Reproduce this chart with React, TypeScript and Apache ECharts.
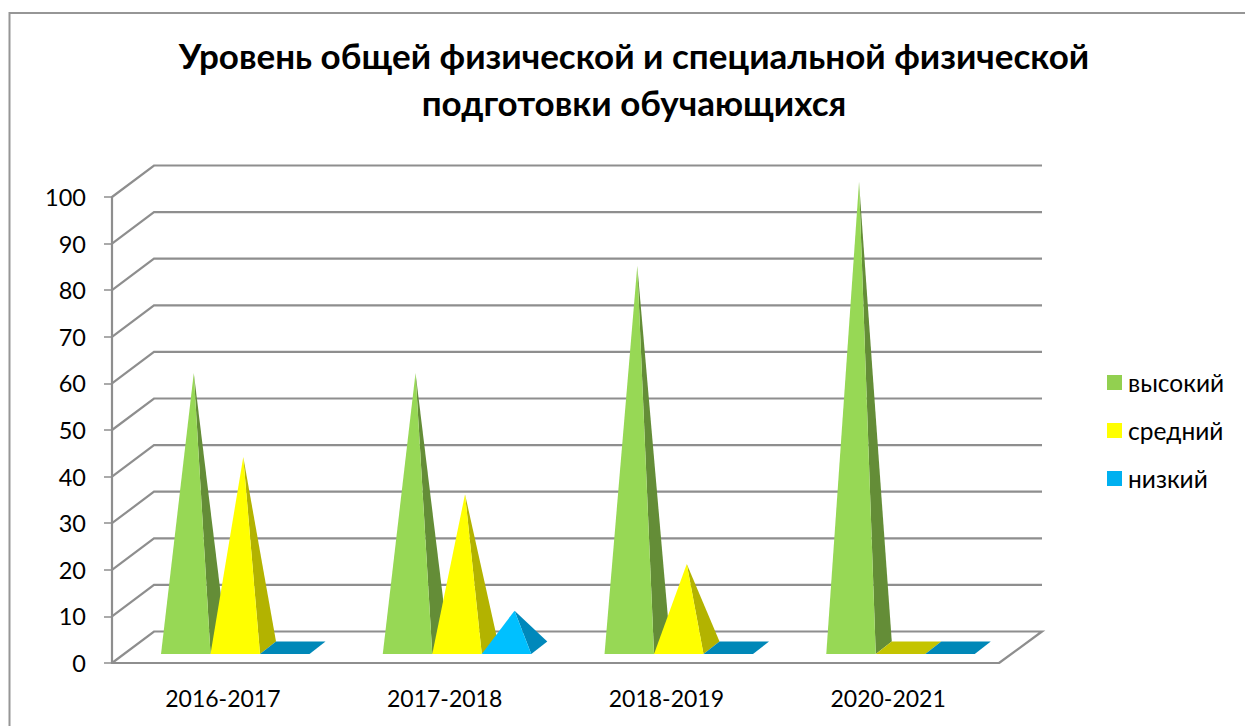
import React, { useEffect, useRef } from "react";
import * as echarts from "echarts";

const categories = ["2016-2017", "2017-2018", "2018-2019", "2020-2021"];
const seriesNames = ["высокий", "средний", "низкий"];
const highValues = [59, 59, 82, 100];
const mediumValues = [41, 33, 18, 0];
const lowValues = [0, 8, 0, 0];
const yTicks = [0, 10, 20, 30, 40, 50, 60, 70, 80, 90, 100];
const titleText = "Уровень общей физической и специальной физической\nподготовки обучающихся";

const FONT = "Lato, 'Open Sans', sans-serif";
const GRID_COLOR = "#8E8E8E";
const WALL_DX = 42;
const WALL_DY = -31.5;
const styles = [
  { legend: "#92D050", front: "#97D855", side: "#648D37", flat: "#648D37" },
  { legend: "#FFFF00", front: "#FFFF00", side: "#B3B300", flat: "#C4C400" },
  { legend: "#00B0F0", front: "#00C0FF", side: "#0088BB", flat: "#0088B8" },
];

function pyramidItem(seriesIndex: number) {
  return (params: any, api: any) => {
    const cat = api.value(0);
    const v = api.value(1);
    const band = api.size([1, 0])[0];
    const bw = band * 0.2232;
    const center = api.coord([cat, 0]);
    const top = api.coord([cat, v]);
    const x0 = center[0] + 12.4 - 1.5 * bw + seriesIndex * bw;
    const x1 = x0 + bw;
    const yFront = center[1] - 9;
    const dx = 16;
    const dy = -12.5;
    const st = styles[seriesIndex];
    if (v === 0) {
      return {
        type: "polygon",
        shape: { points: [[x0, yFront], [x1, yFront], [x1 + dx, yFront + dy], [x0 + dx, yFront + dy]] },
        style: { fill: st.flat },
      };
    }
    const apex = [x0 + bw / 2 + dx / 2, top[1] - 15];
    return {
      type: "group",
      children: [
        {
          type: "polygon",
          shape: { points: [[x1, yFront], [x1 + dx, yFront + dy], apex] },
          style: { fill: st.side },
        },
        {
          type: "polygon",
          shape: { points: [[x0, yFront], [x1, yFront], apex] },
          style: { fill: st.front },
        },
      ],
    };
  };
}

function wallItem(params: any, api: any) {
  const v = api.value(0);
  const cs = params.coordSys;
  const p = api.coord([0, v]);
  const left = cs.x;
  const right = cs.x + cs.width;
  const points: number[][] = [
    [left, p[1]],
    [left + WALL_DX, p[1] + WALL_DY],
    [right + WALL_DX + 1, p[1] + WALL_DY],
  ];
  if (v === 0) points.push([right, p[1]]);
  return {
    type: "polyline",
    shape: { points },
    style: { stroke: GRID_COLOR, lineWidth: 2.2, fill: "none" },
  };
}

function pyramidSeries(i: number, values: number[]) {
  return {
    type: "custom",
    name: seriesNames[i],
    coordinateSystem: "cartesian2d",
    renderItem: pyramidItem(i),
    itemStyle: { color: styles[i].legend },
    encode: { x: 0, y: 1 },
    data: values.map((v, c) => [c, v]),
    clip: false,
    silent: true,
    z: 5 + i,
  };
}

export default function App() {
  const ref = useRef<HTMLDivElement>(null);
  useEffect(() => {
    const chart = echarts.init(ref.current!, null, { renderer: "svg" });
    chart.setOption({
      animation: false,
      backgroundColor: "#FFFFFF",
      textStyle: { fontFamily: FONT },
      title: {
        text: titleText,
        left: 629,
        top: 26,
        textAlign: "center",
        textStyle: { fontFamily: FONT, fontSize: 35, fontWeight: "bold", color: "#000", lineHeight: 47 },
      },
      legend: {
        orient: "vertical",
        left: 1102,
        top: 365,
        itemWidth: 15,
        itemHeight: 15,
        itemGap: 23,
        icon: "rect",
        data: seriesNames,
        textStyle: { fontFamily: FONT, fontSize: 24.5, color: "#000", padding: [0, 0, 0, 1] },
      },
      grid: { left: 112, width: 887, top: 197, height: 466 },
      xAxis: {
        type: "category",
        data: categories,
        axisLine: { lineStyle: { color: GRID_COLOR, width: 2.2 } },
        axisTick: { length: 9, lineStyle: { color: GRID_COLOR, width: 1.5 } },
        axisLabel: { color: "#000", fontSize: 23, margin: 23, fontFamily: FONT },
        splitLine: { show: false },
      },
      yAxis: {
        type: "value",
        min: 0,
        max: 100,
        interval: 10,
        axisLine: { show: true, lineStyle: { color: GRID_COLOR, width: 2.2 } },
        axisTick: { show: true, length: 8, lineStyle: { color: GRID_COLOR, width: 1.5 } },
        axisLabel: { color: "#000", fontSize: 23.5, margin: 26, fontFamily: FONT },
        splitLine: { show: false },
      },
      graphic: [
        {
          type: "rect",
          shape: { x: 9.5, y: 13, width: 1300, height: 800 },
          style: { fill: "none", stroke: "#969696", lineWidth: 2 },
          silent: true,
        },
      ],
      series: [
        {
          type: "custom",
          name: "walls",
          coordinateSystem: "cartesian2d",
          renderItem: wallItem,
          encode: { y: 0 },
          data: yTicks.map((v) => [v]),
          clip: false,
          silent: true,
          z: 1,
        },
        pyramidSeries(0, highValues),
        pyramidSeries(1, mediumValues),
        pyramidSeries(2, lowValues),
      ],
    });
    return () => chart.dispose();
  }, []);
  return <div ref={ref} style={{ position: "fixed", left: 0, top: 0, width: 1245, height: 726 }} />;
}
